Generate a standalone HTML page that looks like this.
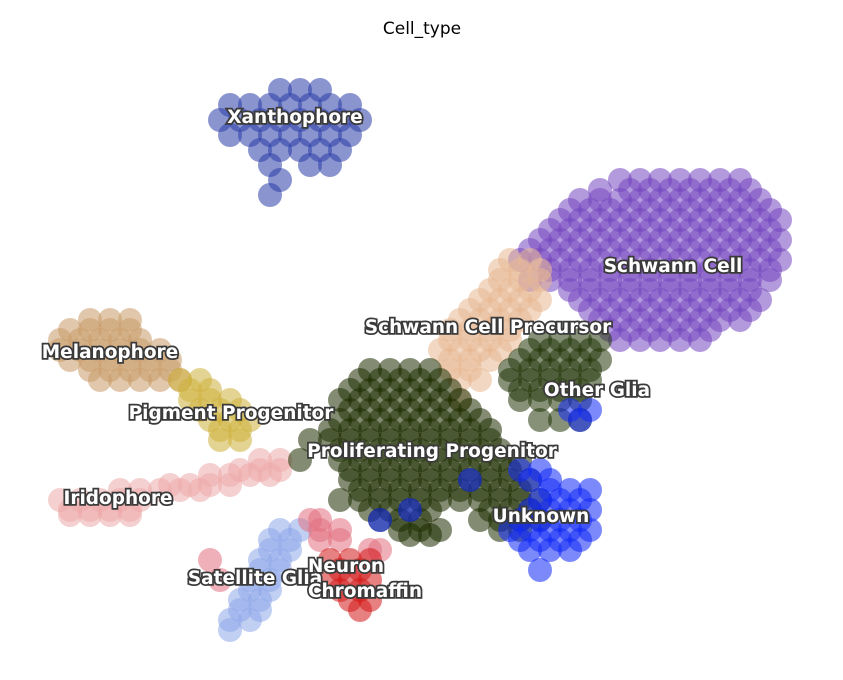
<!DOCTYPE html>
<html><head><meta charset="utf-8">
<style>
html,body{margin:0;padding:0;background:#fff;}
svg{display:block;}
.lbl{font-family:"DejaVu Sans","Liberation Sans",sans-serif;font-weight:bold;font-size:18.5px;fill:#fff;stroke:#3a3a3a;stroke-width:3.5px;paint-order:stroke;text-anchor:middle;dominant-baseline:middle;}
</style></head>
<body>
<svg id="chart" width="843" height="680">
<text x="422" y="29" font-family="DejaVu Sans, Liberation Sans, sans-serif" font-size="17" text-anchor="middle" dominant-baseline="middle">Cell_type</text>
<g id="points"></g>
<g id="labels"></g>
</svg>
<script>
// Each cluster: rows of [y, x1, x2, ...] in UMAP units
const clusterNames = ["Xanthophore","Schwann Cell","Schwann Cell Precursor","Melanophore","Pigment Progenitor","Iridophore","Satellite Glia","Neuron","Chromaffin","Proliferating Progenitor","Other Glia","Unknown"];
const clusterColors = ["#2a3ca8","#7447c0","#e8b891","#c89a68","#cdb03a","#ecaaaa","#8ea8ea","#e27080","#d41818","#1d2e00","#22360a","#1028f5"];
const xanthophoreRows = [[9,28,30,32],[10.5,23,25,27,29,31,33,35],[12,22,24,26,28,30,32,34,36],[13.5,23,25,27,29,31,33,35],[15,26,28,30,32,34],[16.5,27,31,33],[18,28],[19.5,27]];
const schwannRows = [[18,62,64,66,68,70,72,74],[19,60,63,65,67,69,71,73,75],[20,58,60,62,64,66,68,70,72,74,76],[21,57,59,61,63,65,67,69,71,73,75,77],[22,56,58,60,62,64,66,68,70,72,74,76,78],[23,55,57,59,61,63,65,67,69,71,73,75,77],[24,54,56,58,60,62,64,66,68,70,72,74,76,78],[25,53,55,57,59,61,63,65,67,69,71,73,75,77],[26,52,54,56,58,60,62,64,66,68,70,72,74,76,78],[27,55,57,59,61,63,65,67,69,71,73,75,77],[28,53,55,57,59,61,63,65,67,69,71,73,75,77],[29,57,59,61,63,65,67,69,71,73,75],[30,58,60,62,64,66,68,70,72,74,76],[31,59,61,63,65,67,69,71,73,75],[32,60,62,64,66,68,70,72,74],[33,61,63,65,67,69,71],[34,62,64,66,68,70]];
const precursorRows = [[26,51,53],[27,50,52,54],[28,50,52,54],[29,49,51,53],[30,48,50,52,54],[31,47,49,51,53],[32,46,48,50,52],[33,45,47,49,51],[34,45,47,49,51],[35,44,46,48,50],[36,45,47,49],[37,45,47],[38,46,48],[40,46]];
const melanophoreRows = [[32,9,11,13],[33,7,9,11,13],[34,6,8,10,12,14],[35,6,8,10,12,14,16],[36,7,9,11,13,15,17],[37,9,11,13,15,17],[38,10,12,14,16,18]];
const pigmentRows = [[38,18,20],[39,19,21],[40,19,21,23],[41,20,22,24],[42,21,23,25],[43,22,24],[44,22,24]];
const iridophoreRows = [[46,26,28],[47,24,26,28],[47.5,21,23,25,27],[48.5,17,19,21,23],[49,12,14,16,18,20],[50,6,8,10,12,14],[51,7,9,11,13],[51.5,7,9,11,13]];
const satelliteRows = [[53,28,30],[54,27,29],[55,27,29],[56,26,28],[57,26,28],[58,25,27],[59,25,27],[60,24,26],[61,24,26],[62,23,25],[63,23]];
const neuronRows = [[52,31,32],[53,32,34],[54,32,34],[55,37,38],[56,21],[58,22]];
const chromaffinRows = [[56,33,35,37],[57,34,36],[58,33,35,37],[59,34,36],[60,35,37],[61,36]];
const proliferatingRows = [[37,37,39,41,43],[38,36,38,40,42,44],[39,35,37,39,41,43,45],[40,34,36,38,40,42,44,46],[41,35,37,39,41,43,45,47],[42,34,36,38,40,42,44,46,48],[43,33,35,37,39,41,43,45,47,49],[44,31,33,35,37,39,41,43,45,47,49],[45,34,36,38,40,42,44,46,48,50],[46,30,34,36,38,40,42,44,46,48,50,52],[47,35,37,39,41,43,45,47,49,51],[48,35,37,39,41,43,45,47,49,51,53],[49,36,38,40,42,44,46,48,50,52],[50,34,36,38,40,42,44,46,48,50,52,54],[51,37,39,41,43,49,51,53],[52,38,40,42,48,50,52,54],[53,40,42,44,50,52],[53.5,41,43]];
const otherGliaRows = [[34,54,56,58,60],[35,53,55,57,59],[36,52,54,56,58,60],[37,51,53,55,57,59],[38,51,53,55,57,59],[39,52,54,56,58],[40,52,54,56,58],[42,54,56,58]];
const unknownRows = [[41,57,59],[42,58],[47,52,54],[48,47,53,55],[49,55,57,59],[50,54,56,58],[51,41,53,55,57,59],[52,38,52,54,56,58],[53,51,53,55,57,59],[54,52,54,56,58],[55,53,55,57],[57,54]];
const clusterRows = [xanthophoreRows,schwannRows,precursorRows,melanophoreRows,pigmentRows,iridophoreRows,satelliteRows,neuronRows,chromaffinRows,proliferatingRows,otherGliaRows,unknownRows];
const labelX = [29.5,67.3,48.8,11,23.1,11.8,25.5,34.6,36.5,43.2,59.7,54.1];
const labelY = [11.8,26.7,32.8,35.3,41.4,49.9,57.9,56.7,59.2,45.2,39.1,51.7];

function xScale(v){return v*10;}
function yScale(v){return v*10;}

const ns="http://www.w3.org/2000/svg";
const pg=document.getElementById('points');
clusterRows.forEach((rows,ci)=>{
  rows.forEach(row=>{
    for(let i=1;i<row.length;i++){
      const c=document.createElementNS(ns,'circle');
      c.setAttribute('cx',xScale(row[i]));
      c.setAttribute('cy',yScale(row[0]));
      c.setAttribute('r',12);
      c.setAttribute('fill',clusterColors[ci]);
      c.setAttribute('fill-opacity',0.55);
      
      
      pg.appendChild(c);
    }
  });
});
const lg=document.getElementById('labels');
clusterNames.forEach((n,i)=>{
  const t=document.createElementNS(ns,'text');
  t.setAttribute('x',xScale(labelX[i]));
  t.setAttribute('y',yScale(labelY[i]));
  t.setAttribute('class','lbl');
  t.textContent=n;
  
  
  lg.appendChild(t);
});
</script>
</body></html>
